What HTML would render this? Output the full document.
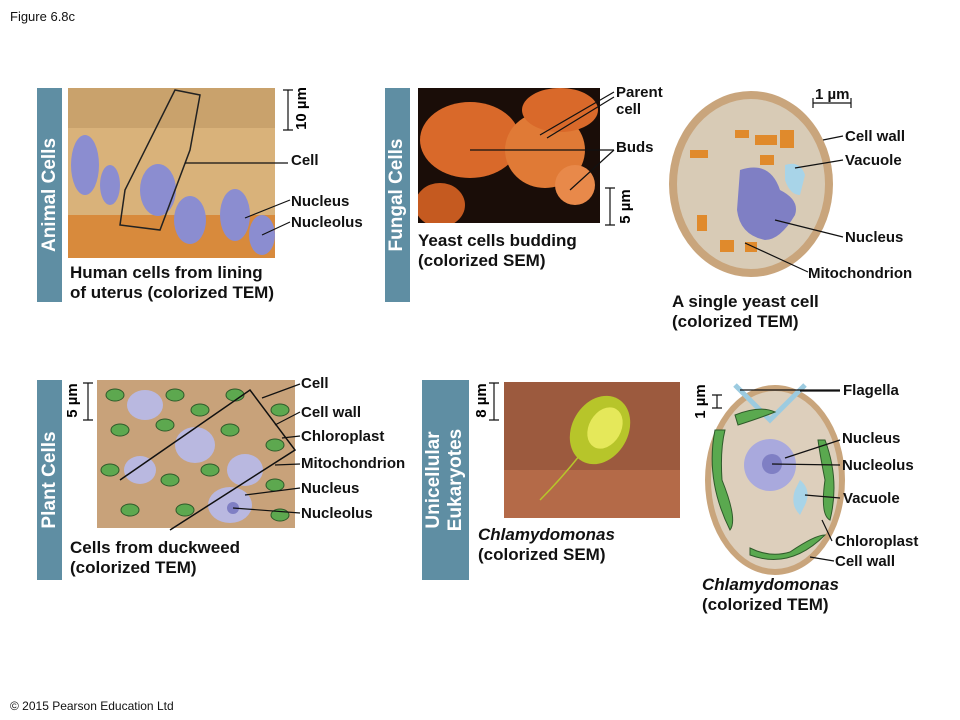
<!DOCTYPE html>
<html><head><meta charset="utf-8"><style>
body{margin:0;width:960px;height:720px;background:#fff;position:relative;overflow:hidden;font-family:"Liberation Sans",Arial,sans-serif;}
.t{position:absolute;font-size:15px;font-weight:bold;color:#111;white-space:nowrap;line-height:18px}
.c{position:absolute;font-size:17px;font-weight:bold;color:#111;line-height:20px;white-space:nowrap}
.bar{position:absolute;background:#5f8ea3;}
.vt{position:absolute;color:#fff;font-weight:bold;font-size:19px;transform:rotate(-90deg);transform-origin:center;white-space:nowrap;text-align:center;line-height:22px}
.sc{position:absolute;font-size:15px;font-weight:bold;transform:rotate(-90deg);white-space:nowrap}
svg{position:absolute;left:0;top:0}
</style></head><body>
<svg width="960" height="720">
<defs><clipPath id="fc"><rect x="418" y="88" width="182" height="135"/></clipPath>
<clipPath id="ac"><rect x="68" y="88" width="207" height="170"/></clipPath></defs>
<!-- animal image -->
<g clip-path="url(#ac)">
<rect x="68" y="88" width="207" height="170" fill="#d9b27a"/>
<rect x="68" y="88" width="207" height="40" fill="#c9a26c"/>
<rect x="68" y="215" width="207" height="43" fill="#d88a3c"/>
<ellipse cx="85" cy="165" rx="14" ry="30" fill="#8b8dd0"/>
<ellipse cx="158" cy="190" rx="18" ry="26" fill="#8b8dd0"/>
<ellipse cx="190" cy="220" rx="16" ry="24" fill="#8b8dd0"/>
<ellipse cx="235" cy="215" rx="15" ry="26" fill="#8b8dd0"/>
<ellipse cx="262" cy="235" rx="13" ry="20" fill="#8b8dd0"/>
<ellipse cx="110" cy="185" rx="10" ry="20" fill="#8b8dd0"/>
<path d="M175 90 L200 95 L190 150 L160 230 L120 225 L125 190 Z" fill="none" stroke="#222" stroke-width="1.5"/>
</g>
<!-- fungal image -->
<g clip-path="url(#fc)">
<rect x="418" y="88" width="182" height="135" fill="#1a0d08"/>
<ellipse cx="470" cy="140" rx="50" ry="38" fill="#d9692a"/>
<ellipse cx="545" cy="150" rx="40" ry="38" fill="#e07a36"/>
<ellipse cx="560" cy="110" rx="38" ry="22" fill="#d9692a"/>
<ellipse cx="575" cy="185" rx="20" ry="20" fill="#e8894a"/>
<ellipse cx="440" cy="205" rx="25" ry="22" fill="#c55a20"/>
</g>
<!-- yeast cell -->
<ellipse cx="751" cy="184" rx="82" ry="93" fill="#c9a57c"/>
<ellipse cx="751" cy="184" rx="74" ry="85" fill="#d8cbb6"/>
<path d="M740 170 Q770 160 780 190 Q800 200 795 215 Q780 240 765 240 Q740 235 737 210 Z" fill="#7f7fc4"/>
<path d="M785 165 Q800 160 805 175 L800 195 Q790 195 785 180 Z" fill="#a8d4e8"/>
<g fill="#e08a2c"><rect x="690" y="150" width="18" height="8"/><rect x="755" y="135" width="22" height="10"/><rect x="780" y="130" width="14" height="18"/><rect x="697" y="215" width="10" height="16"/><rect x="720" y="240" width="14" height="12"/><rect x="745" y="242" width="12" height="10"/><rect x="760" y="155" width="14" height="10"/><rect x="735" y="130" width="14" height="8"/></g>
<!-- plant image -->
<rect x="97" y="380" width="198" height="148" fill="#c8a27a"/>
<g fill="#b9b8e0"><ellipse cx="145" cy="405" rx="18" ry="15"/><ellipse cx="195" cy="445" rx="20" ry="18"/><ellipse cx="245" cy="470" rx="18" ry="16"/><ellipse cx="230" cy="505" rx="22" ry="18"/><ellipse cx="140" cy="470" rx="16" ry="14"/></g>
<g fill="#7f7fc4"><circle cx="233" cy="508" r="6"/></g>
<g fill="#5da84f" stroke="#2e5a2a" stroke-width="1"><ellipse cx="115" cy="395" rx="9" ry="6"/><ellipse cx="175" cy="395" rx="9" ry="6"/><ellipse cx="235" cy="395" rx="9" ry="6"/><ellipse cx="280" cy="410" rx="9" ry="6"/><ellipse cx="120" cy="430" rx="9" ry="6"/><ellipse cx="165" cy="425" rx="9" ry="6"/><ellipse cx="230" cy="430" rx="9" ry="6"/><ellipse cx="275" cy="445" rx="9" ry="6"/><ellipse cx="110" cy="470" rx="9" ry="6"/><ellipse cx="170" cy="480" rx="9" ry="6"/><ellipse cx="275" cy="485" rx="9" ry="6"/><ellipse cx="130" cy="510" rx="9" ry="6"/><ellipse cx="185" cy="510" rx="9" ry="6"/><ellipse cx="280" cy="515" rx="9" ry="6"/><ellipse cx="210" cy="470" rx="9" ry="6"/><ellipse cx="200" cy="410" rx="9" ry="6"/></g>
<path d="M120 480 L250 390 L295 450 L170 530" fill="none" stroke="#111" stroke-width="1.5"/>
<!-- chlamy SEM -->
<rect x="504" y="382" width="176" height="136" fill="#9c5a3e"/>
<rect x="504" y="470" width="176" height="48" fill="#b46a48"/>
<ellipse cx="600" cy="430" rx="28" ry="36" fill="#b7c52a" transform="rotate(30 600 430)"/>
<ellipse cx="605" cy="428" rx="16" ry="22" fill="#e5e85a" transform="rotate(30 605 428)"/>
<path d="M580 455 Q560 480 540 500" stroke="#b7c52a" stroke-width="1.5" fill="none"/>
<!-- chlamy TEM -->
<ellipse cx="775" cy="480" rx="70" ry="95" fill="#c9a57c"/>
<ellipse cx="775" cy="480" rx="64" ry="89" fill="#ddcfbc"/>
<path d="M735 385 L770 420 L805 385" stroke="#9ccbe0" stroke-width="5" fill="none"/>
<circle cx="770" cy="465" r="26" fill="#a9a9dd"/><circle cx="772" cy="464" r="10" fill="#7f7fc4"/>
<path d="M800 480 Q812 490 805 505 L800 515 Q790 505 795 490 Z" fill="#a8d4e8"/>
<g fill="#5aa94f" stroke="#2e5a2a"><path d="M715 430 Q705 480 730 530 Q738 520 722 480 Q720 450 725 430 Z"/><path d="M825 440 Q840 480 830 520 Q820 515 825 480 Q820 455 818 440 Z"/><path d="M750 555 Q790 570 825 535 Q815 535 790 552 Q770 558 750 548 Z"/><path d="M735 415 Q760 405 775 412 Q760 418 738 425 Z"/></g>
<!-- scale bars -->
<g stroke="#111" stroke-width="1.2" fill="none">
<path d="M283 90 H293 M288 90 V130 M283 130 H293"/>
<path d="M605 188 H615 M610 188 V225 M605 225 H615"/>
<path d="M813 98 V108 M813 103 H851 M851 98 V108"/>
<path d="M83 383 H93 M88 383 V420 M83 420 H93"/>
<path d="M489 383 H499 M494 383 V420 M489 420 H499"/>
<path d="M712 395 H722 M717 395 V408 M712 408 H722"/>
<!-- leader lines -->
<path d="M185 163 H288"/><path d="M245 218 L290 200"/><path d="M262 235 L290 222"/>
<path d="M540 135 L614 92"/><path d="M547 138 L614 97"/><path d="M470 150 L614 150"/><path d="M570 190 L614 150"/>
<path d="M823 140 L843 136"/><path d="M795 168 L843 160"/><path d="M775 220 L843 237"/><path d="M745 243 L808 272"/>
<path d="M262 398 L300 384"/><path d="M275 425 L300 412"/><path d="M282 438 L300 436"/><path d="M275 465 L300 464"/><path d="M245 495 L300 488"/><path d="M233 508 L300 513"/>
<path d="M740 390 H840"/><path d="M800 391 L840 391"/><path d="M785 458 L840 440"/><path d="M772 464 L840 465"/><path d="M805 495 L840 498"/><path d="M822 520 L832 541"/><path d="M810 557 L834 561"/>
</g>
</svg>
<div class="t" style="left:10px;top:8px;font-weight:normal;font-size:13px">Figure 6.8c</div>
<div class="bar" style="left:37px;top:88px;width:25px;height:214px"></div>
<div class="vt" style="left:-57px;top:184px;width:214px">Animal Cells</div>
<div class="bar" style="left:385px;top:88px;width:25px;height:214px"></div>
<div class="vt" style="left:290px;top:184px;width:214px">Fungal Cells</div>
<div class="bar" style="left:37px;top:380px;width:25px;height:200px"></div>
<div class="vt" style="left:-50px;top:469px;width:200px">Plant Cells</div>
<div class="bar" style="left:422px;top:380px;width:47px;height:200px"></div>
<div class="vt" style="left:345px;top:458px;width:200px">Unicellular<br>Eukaryotes</div>
<div class="sc" style="left:280px;top:100px">10 µm</div>
<div class="sc" style="left:608px;top:198px">5 µm</div>
<div class="t" style="left:815px;top:86px">1 µm</div>
<div class="sc" style="left:55px;top:392px">5 µm</div>
<div class="sc" style="left:464px;top:392px">8 µm</div>
<div class="sc" style="left:683px;top:393px">1 µm</div>
<div class="t" style="left:291px;top:152px">Cell</div>
<div class="t" style="left:291px;top:193px">Nucleus</div>
<div class="t" style="left:291px;top:214px">Nucleolus</div>
<div class="c" style="left:70px;top:263px">Human cells from lining<br>of uterus (colorized TEM)</div>
<div class="t" style="left:616px;top:84px;line-height:17px">Parent<br>cell</div>
<div class="t" style="left:616px;top:139px">Buds</div>
<div class="c" style="left:418px;top:231px">Yeast cells budding<br>(colorized SEM)</div>
<div class="t" style="left:845px;top:128px">Cell wall</div>
<div class="t" style="left:845px;top:152px">Vacuole</div>
<div class="t" style="left:845px;top:229px">Nucleus</div>
<div class="t" style="left:808px;top:265px">Mitochondrion</div>
<div class="c" style="left:672px;top:292px">A single yeast cell<br>(colorized TEM)</div>
<div class="t" style="left:301px;top:375px">Cell</div>
<div class="t" style="left:301px;top:404px">Cell wall</div>
<div class="t" style="left:301px;top:428px">Chloroplast</div>
<div class="t" style="left:301px;top:455px">Mitochondrion</div>
<div class="t" style="left:301px;top:480px">Nucleus</div>
<div class="t" style="left:301px;top:505px">Nucleolus</div>
<div class="c" style="left:70px;top:538px">Cells from duckweed<br>(colorized TEM)</div>
<div class="c" style="left:478px;top:525px"><i>Chlamydomonas</i><br>(colorized SEM)</div>
<div class="t" style="left:843px;top:382px">Flagella</div>
<div class="t" style="left:842px;top:430px">Nucleus</div>
<div class="t" style="left:842px;top:457px">Nucleolus</div>
<div class="t" style="left:843px;top:490px">Vacuole</div>
<div class="t" style="left:835px;top:533px">Chloroplast</div>
<div class="t" style="left:835px;top:553px">Cell wall</div>
<div class="c" style="left:702px;top:575px"><i>Chlamydomonas</i><br>(colorized TEM)</div>
<div class="t" style="left:10px;top:697px;font-weight:normal;font-size:12px">© 2015 Pearson Education Ltd</div>
</body></html>
